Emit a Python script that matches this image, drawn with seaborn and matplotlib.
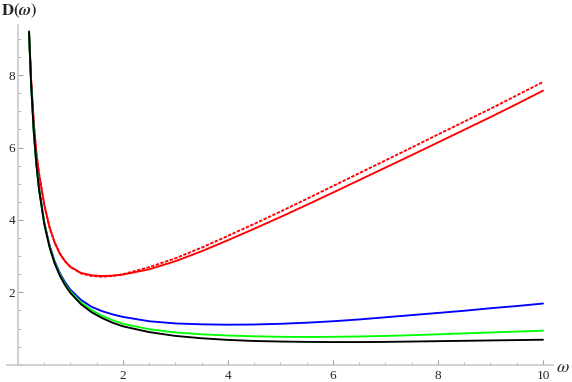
import numpy as np
import pandas as pd
import matplotlib
matplotlib.use("Agg")
import matplotlib.pyplot as plt
import seaborn as sns
from matplotlib.ticker import MultipleLocator

omega = [0.21, 0.25, 0.3, 0.35, 0.4, 0.5, 0.6, 0.7, 0.8, 0.9, 1.0, 1.2, 1.4, 1.6,
         1.8, 2.0, 2.5, 3.0, 3.5, 4.0, 4.5, 5.0, 5.5, 6.0, 6.5, 7.0, 7.5, 8.0, 8.5,
         9.0, 9.5, 10.0]

red_solid = [9.2, 7.88, 6.68, 5.85, 5.28, 4.42, 3.80, 3.37, 3.06, 2.85, 2.70, 2.535, 2.47, 2.45,
             2.46, 2.49, 2.635, 2.86, 3.135, 3.44, 3.755, 4.08, 4.415, 4.755, 5.10, 5.445, 5.79,
             6.14, 6.49, 6.84, 7.20, 7.57]
red_dashed = [9.2, 7.88, 6.68, 5.85, 5.28, 4.42, 3.80, 3.37, 3.06, 2.85, 2.70, 2.52, 2.45, 2.43,
              2.45, 2.50, 2.695, 2.94, 3.235, 3.56, 3.89, 4.23, 4.58, 4.935, 5.29, 5.645, 6.00,
              6.36, 6.715, 7.07, 7.44, 7.81]
blue = [9.2, 7.75, 6.47, 5.56, 4.88, 3.93, 3.30, 2.85, 2.52, 2.27, 2.07, 1.79, 1.60, 1.48,
        1.39, 1.32, 1.20, 1.14, 1.115, 1.105, 1.11, 1.13, 1.16, 1.20, 1.25, 1.31, 1.37,
        1.43, 1.49, 1.56, 1.62, 1.69]
green = [9.2, 7.74, 6.45, 5.54, 4.86, 3.90, 3.27, 2.81, 2.48, 2.22, 2.02, 1.72, 1.51, 1.35,
         1.23, 1.13, 0.98, 0.89, 0.84, 0.805, 0.785, 0.77, 0.765, 0.77, 0.78, 0.795, 0.815,
         0.84, 0.865, 0.89, 0.915, 0.94]
black = [9.2, 7.74, 6.45, 5.53, 4.85, 3.89, 3.25, 2.79, 2.45, 2.19, 1.98, 1.67, 1.45, 1.29,
         1.16, 1.06, 0.90, 0.795, 0.73, 0.685, 0.655, 0.64, 0.63, 0.625, 0.625, 0.63, 0.64,
         0.65, 0.66, 0.67, 0.68, 0.69]

x_ticks = [2, 4, 6, 8, 10]
y_ticks = [2, 4, 6, 8]

df = pd.DataFrame({"omega": omega, "red_solid": red_solid, "red_dashed": red_dashed,
                   "blue": blue, "green": green, "black": black})

sns.set_style("white")
plt.rcParams["font.family"] = ["Liberation Serif", "DejaVu Serif"]
plt.rcParams["mathtext.fontset"] = "stix"

fig = plt.figure(figsize=(5.72, 3.82), dpi=100)
ax = fig.add_axes([7 / 572, (382 - 364.7) / 382, (552.5 - 7) / 572, (364.7 - 25) / 382])

lw = 1.35
sns.lineplot(data=df, x="omega", y="red_solid", color=(1, 0, 0), lw=lw, ax=ax)
sns.lineplot(data=df, x="omega", y="red_dashed", color=(1, 0, 0), lw=lw, ax=ax,
             dashes=False, linestyle=(0, (1.8, 0.8)))
sns.lineplot(data=df, x="omega", y="blue", color=(0, 0, 1), lw=lw, ax=ax)
sns.lineplot(data=df, x="omega", y="green", color=(0, 1, 0), lw=lw, ax=ax)
sns.lineplot(data=df, x="omega", y="black", color=(0, 0, 0), lw=lw, ax=ax)

ax.set_xlim(-0.2095, 10.181)
ax.set_ylim(0, 9.384)
ax.set_xlabel("")
ax.set_ylabel("")

for s in ["top", "right"]:
    ax.spines[s].set_visible(False)
ax.spines["left"].set_position(("data", 0))
ax.spines["bottom"].set_position(("data", 0))
for s in ["left", "bottom"]:
    ax.spines[s].set_color("#c8c8c8")
    ax.spines[s].set_linewidth(1.2)

ax.set_xticks(x_ticks)
ax.set_yticks(y_ticks)
ax.set_xticklabels([str(t) for t in x_ticks])
ax.set_yticklabels([str(t) for t in y_ticks])
ax.xaxis.set_minor_locator(MultipleLocator(0.5))
ax.yaxis.set_minor_locator(MultipleLocator(0.5))
ax.tick_params(which="major", direction="in", length=3.5, width=0.7, color="#999999",
               labelsize=9.5, pad=3, bottom=True, left=True)
ax.tick_params(which="minor", direction="in", length=2, width=0.6, color="#aaaaaa",
               bottom=True, left=True)
ax.tick_params(axis="x", pad=4)
ax.tick_params(axis="y", pad=2)

fig.text(1 / 572, 1 - 11 / 382, r"$\mathbf{D(}\boldsymbol{\omega}\mathbf{)}$", fontsize=12,
         ha="left", va="center")
fig.text(563 / 572, 1 - 367 / 382, r"$\omega$", fontsize=13, ha="center", va="center")

fig.savefig("out.png", dpi=100)
